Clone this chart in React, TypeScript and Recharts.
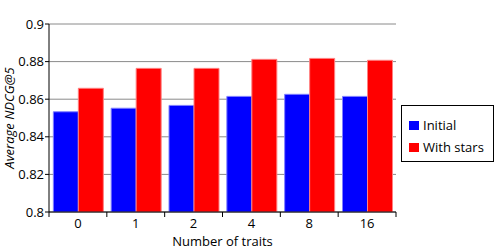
import { BarChart, Bar, XAxis, YAxis, CartesianGrid, Label } from "recharts";

const traits = ["0", "1", "2", "4", "8", "16"];
const initial = [0.8533, 0.8552, 0.8567, 0.8615, 0.8626, 0.8615];
const withStars = [0.8658, 0.8764, 0.8764, 0.8812, 0.8817, 0.8807];
const yTicks = [0.8, 0.82, 0.84, 0.86, 0.88, 0.9];

const seriesNames = ["Initial", "With stars"];
const seriesColors = ["#0000ff", "#ff0000"];
const seriesEdges = ["#8080ff", "#ff8080"];

const data = traits.map((t, i) => ({ trait: t, initial: initial[i], stars: withStars[i] }));

const W = 500;
const H = 250;
const MARGIN = { top: 24, right: 104, bottom: 0, left: 0 };
const Y_AXIS_W = 49;
const X_AXIS_H = 38;
const FONT = "'Open Sans', sans-serif";
const TICK_SIZE = 5;
const TICK_MARGIN = 2;

// band width of one category, derived from the plot width
const plotWidth = W - MARGIN.left - MARGIN.right - Y_AXIS_W;
const band = plotWidth / traits.length;

// Tick lines sit on category boundaries, labels in the middle
function TraitTick(props: any) {
  const { x, y, payload, index } = props;
  const axisY = y - TICK_SIZE - TICK_MARGIN;
  const left = x - band / 2;
  const right = x + band / 2;
  return (
    <g>
      <line x1={left} x2={left} y1={axisY} y2={axisY + TICK_SIZE} stroke="#000" />
      {index === traits.length - 1 && (
        <line x1={right} x2={right} y1={axisY} y2={axisY + TICK_SIZE} stroke="#000" />
      )}
      <text x={x} y={axisY + 15.5} textAnchor="middle" fontSize={13} fontFamily={FONT} fill="#000">
        {payload.value}
      </text>
    </g>
  );
}

function ChartLegend() {
  return (
    <div
      style={{
        position: "absolute",
        left: 401,
        top: 105,
        width: 91,
        height: 55,
        border: "1px solid #000",
        background: "#fff",
        fontFamily: FONT,
        fontSize: 13,
        color: "#000",
        boxSizing: "content-box",
      }}
    >
      {seriesNames.map((name, i) => (
        <div
          key={name}
          style={{ position: "absolute", left: 7, top: 10 + i * 22, display: "flex", alignItems: "center", height: 18 }}
        >
          <span style={{ display: "inline-block", width: 10, height: 9, background: seriesColors[i], marginRight: 4 }} />
          <span>{name}</span>
        </div>
      ))}
    </div>
  );
}

export default function App() {
  return (
    <div style={{ position: "fixed", left: 0, top: 0, width: W, height: H, background: "#fff" }}>
      <BarChart
        width={W}
        height={H}
        data={data}
        margin={MARGIN}
        barCategoryGap="7.5%"
        barGap={0}
      >
        <CartesianGrid vertical={false} stroke="#8a8a8a" />
        <XAxis
          dataKey="trait"
          height={X_AXIS_H}
          axisLine={{ stroke: "#000" }}
          tickLine={false}
          tickSize={TICK_SIZE}
          tickMargin={TICK_MARGIN}
          tick={<TraitTick />}
          interval={0}
        >
          <Label
            value="Number of traits"
            position="insideBottom"
            offset={0}
            dy={-4}
            style={{ fontSize: 13, fontFamily: FONT, fill: "#000" }}
          />
        </XAxis>
        <YAxis
          width={Y_AXIS_W}
          domain={[0.8, 0.9]}
          ticks={yTicks}
          allowDataOverflow
          axisLine={{ stroke: "#000" }}
          tickLine={{ stroke: "#000" }}
          tickSize={4}
          tickMargin={1}
          tick={{ fontSize: 13, fontFamily: FONT, fill: "#000" }}
        >
          <Label
            value="Average NDCG@5"
            angle={-90}
            position="insideLeft"
            offset={9}
            style={{ fontSize: 13, fontFamily: FONT, fontStyle: "italic", fill: "#000", textAnchor: "middle" }}
          />
        </YAxis>
        <Bar
          dataKey="initial"
          name={seriesNames[0]}
          fill={seriesColors[0]}
          stroke={seriesEdges[0]}
          strokeWidth={1}
          isAnimationActive={false}
        />
        <Bar
          dataKey="stars"
          name={seriesNames[1]}
          fill={seriesColors[1]}
          stroke={seriesEdges[1]}
          strokeWidth={1}
          isAnimationActive={false}
        />
      </BarChart>
      <ChartLegend />
    </div>
  );
}
